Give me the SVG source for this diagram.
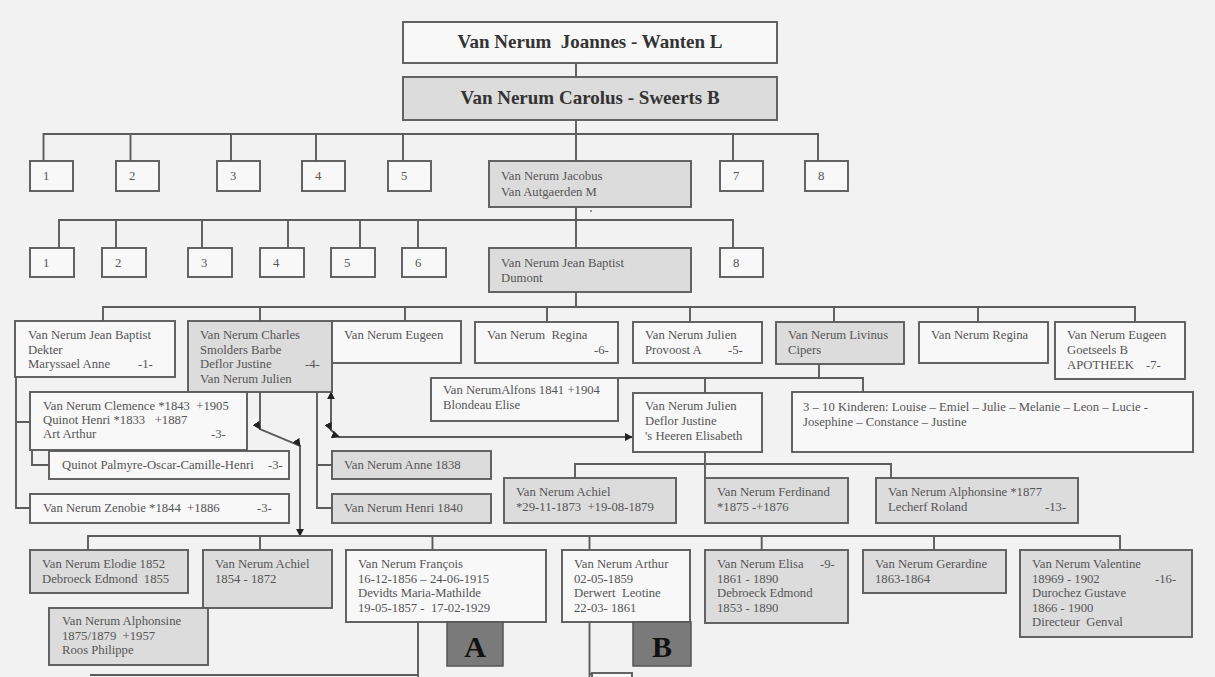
<svg xmlns="http://www.w3.org/2000/svg" width="1215" height="677" viewBox="0 0 1215 677">
<defs>
<style>
.b{fill:#f8f8f8;stroke:#5c5c5c;stroke-width:1.9}
.g{fill:#dcdcdc;stroke:#5c5c5c;stroke-width:1.9}
.d{fill:#7a7a7a;stroke:#555;stroke-width:1.5}
.t{font-family:"Liberation Serif",serif;font-size:12.7px;fill:#555;white-space:pre}
.h{font-family:"Liberation Serif",serif;font-size:19px;font-weight:bold;fill:#333;text-anchor:middle;white-space:pre}
.L{font-family:"Liberation Serif",serif;font-size:30px;font-weight:bold;fill:#111;text-anchor:middle}
.c{fill:none;stroke:#5c5c5c;stroke-width:1.9}
</style>
<marker id="ar" viewBox="0 0 10 10" refX="9" refY="5" markerWidth="8" markerHeight="8" orient="auto-start-reverse" markerUnits="userSpaceOnUse">
<path d="M0,0 L10,5 L0,10 z" fill="#222"/>
</marker>
</defs>
<rect x="0" y="0" width="1215" height="677" fill="#f2f2f2"/>

<g id="connectors">
<path class="c" d="M576,63 V77 M576,120 V161"/>
<path class="c" d="M43.5,161 V134 H818 V161 M130.5,134 V161 M231,134 V161 M316,134 V161 M403,134 V161 M733,134 V161"/>
<path class="c" d="M576,207 V248 M59,248 V220 H733 V248 M116,220 V248 M202,220 V248 M288,220 V248 M360,220 V248 M418,220 V248"/>
<path class="c" d="M576,292 V307 M103,321 V307 H1135 V321 M260,307 V321 M405,307 V321 M547,307 V321 M690,307 V321 M834,307 V322 M978,307 V322"/>
<path class="c" d="M16,377 V508 H30 M16,422 H30 M32,450 V465 H49"/>
<path class="c" d="M317,392 V508 H332 M317,465 H332"/>
<path class="c" d="M260,392 V429 L300,446 V536" marker-mid="url(#ar)" marker-end="url(#ar)"/>
<path class="c" d="M331,392 V430 L339,437 H632" marker-start="url(#ar)" marker-mid="url(#ar)" marker-end="url(#ar)"/>
<path class="c" d="M819,364 V378 M618,378 H863 V392 M705,378 V393"/>
<path class="c" d="M705,452 V478 M575,478 V464 H891 V478"/>
<path class="c" d="M88,550 V536 H1120 V550 M260,536 V550 M432.5,536 V550 M589.5,536 V550 M761.7,536 V550 M934,536 V550"/>
<path class="c" d="M418,622 V677 M90,675 H418 M589.5,622 V677 M589.5,674 H632"/>
<circle cx="591" cy="211" r="1" fill="#777"/>
</g>

<g id="n-joannes"><rect class="b" x="403" y="22" width="374" height="41"/><text class="h" x="590" y="48">Van Nerum  Joannes - Wanten L</text></g>
<g id="n-carolus"><rect class="g" x="403" y="77" width="374" height="43"/><text class="h" x="590" y="104">Van Nerum Carolus - Sweerts B</text></g>

<g id="r1-1"><rect class="b" x="30" y="161" width="43" height="30"/><text class="t" x="43" y="180">1</text></g>
<g id="r1-2"><rect class="b" x="116" y="161" width="43" height="30"/><text class="t" x="129" y="180">2</text></g>
<g id="r1-3"><rect class="b" x="217" y="161" width="43" height="30"/><text class="t" x="230" y="180">3</text></g>
<g id="r1-4"><rect class="b" x="302" y="161" width="43" height="30"/><text class="t" x="315" y="180">4</text></g>
<g id="r1-5"><rect class="b" x="388" y="161" width="43" height="30"/><text class="t" x="401" y="180">5</text></g>
<g id="r1-jacobus"><rect class="g" x="489" y="161" width="202" height="46"/><text class="t" x="501" y="180">Van Nerum Jacobus</text><text class="t" x="501" y="196">Van Autgaerden M</text></g>
<g id="r1-7"><rect class="b" x="720" y="161" width="43" height="30"/><text class="t" x="733" y="180">7</text></g>
<g id="r1-8"><rect class="b" x="805" y="161" width="43" height="30"/><text class="t" x="818" y="180">8</text></g>

<g id="r2-1"><rect class="b" x="30" y="248" width="44" height="29"/><text class="t" x="43" y="267">1</text></g>
<g id="r2-2"><rect class="b" x="102" y="248" width="44" height="29"/><text class="t" x="115" y="267">2</text></g>
<g id="r2-3"><rect class="b" x="188" y="248" width="44" height="29"/><text class="t" x="201" y="267">3</text></g>
<g id="r2-4"><rect class="b" x="260" y="248" width="44" height="29"/><text class="t" x="273" y="267">4</text></g>
<g id="r2-5"><rect class="b" x="331" y="248" width="44" height="29"/><text class="t" x="344" y="267">5</text></g>
<g id="r2-6"><rect class="b" x="402" y="248" width="44" height="29"/><text class="t" x="415" y="267">6</text></g>
<g id="r2-jb"><rect class="g" x="489" y="248" width="202" height="44"/><text class="t" x="501" y="267">Van Nerum Jean Baptist</text><text class="t" x="501" y="282">Dumont</text></g>
<g id="r2-8"><rect class="b" x="720" y="248" width="43" height="29"/><text class="t" x="733" y="267">8</text></g>

<g id="r3-jb"><rect class="b" x="15" y="321" width="160" height="56"/><text class="t" x="28" y="339">Van Nerum Jean Baptist</text><text class="t" x="28" y="354">Dekter</text><text class="t" x="28" y="368">Maryssael Anne</text><text class="t" x="138" y="368">-1-</text></g>
<g id="r3-charles"><rect class="g" x="188" y="321" width="144" height="71"/><text class="t" x="200" y="339">Van Nerum Charles</text><text class="t" x="200" y="354">Smolders Barbe</text><text class="t" x="200" y="368">Deflor Justine</text><text class="t" x="305" y="368">-4-</text><text class="t" x="200" y="383">Van Nerum Julien</text></g>
<g id="r3-eugeen"><rect class="b" x="332" y="321" width="129" height="42"/><text class="t" x="344" y="339">Van Nerum Eugeen</text></g>
<g id="r3-regina"><rect class="b" x="475" y="322" width="143" height="41"/><text class="t" x="487" y="339">Van Nerum  Regina</text><text class="t" x="594" y="354">-6-</text></g>
<g id="r3-julien"><rect class="b" x="633" y="322" width="129" height="41"/><text class="t" x="645" y="339">Van Nerum Julien</text><text class="t" x="645" y="354">Provoost A</text><text class="t" x="728" y="354">-5-</text></g>
<g id="r3-livinus"><rect class="g" x="776" y="322" width="128" height="42"/><text class="t" x="788" y="339">Van Nerum Livinus</text><text class="t" x="788" y="354">Cipers</text></g>
<g id="r3-regina2"><rect class="b" x="919" y="322" width="129" height="41"/><text class="t" x="931" y="339">Van Nerum Regina</text></g>
<g id="r3-eugeen2"><rect class="b" x="1055" y="322" width="130" height="57"/><text class="t" x="1067" y="339">Van Nerum Eugeen</text><text class="t" x="1067" y="354">Goetseels B</text><text class="t" x="1067" y="369">APOTHEEK</text><text class="t" x="1146" y="369">-7-</text></g>

<g id="n-clemence"><rect class="b" x="30" y="392" width="217" height="58"/><text class="t" x="43" y="410">Van Nerum Clemence *1843  +1905</text><text class="t" x="43" y="424">Quinot Henri *1833   +1887</text><text class="t" x="43" y="438">Art Arthur</text><text class="t" x="211" y="438">-3-</text></g>
<g id="n-quinot"><rect class="b" x="49" y="451" width="240" height="28"/><text class="t" x="62" y="469">Quinot Palmyre-Oscar-Camille-Henri</text><text class="t" x="268" y="469">-3-</text></g>
<g id="n-zenobie"><rect class="b" x="30" y="494" width="259" height="29"/><text class="t" x="43" y="512">Van Nerum Zenobie *1844  +1886</text><text class="t" x="257" y="512">-3-</text></g>
<g id="n-anne"><rect class="g" x="332" y="451" width="159" height="28"/><text class="t" x="344" y="469">Van Nerum Anne 1838</text></g>
<g id="n-henri"><rect class="g" x="332" y="494" width="159" height="29"/><text class="t" x="344" y="512">Van Nerum Henri 1840</text></g>
<g id="n-alfons"><rect class="b" x="431" y="378" width="187" height="43"/><text class="t" x="443" y="394">Van NerumAlfons 1841 +1904</text><text class="t" x="443" y="409">Blondeau Elise</text></g>
<g id="n-juliendeflor"><rect class="b" x="633" y="393" width="129" height="59"/><text class="t" x="645" y="410">Van Nerum Julien</text><text class="t" x="645" y="425">Deflor Justine</text><text class="t" x="645" y="440">'s Heeren Elisabeth</text></g>
<g id="n-kinderen"><rect class="b" x="792" y="392" width="401" height="60"/><text class="t" x="803" y="411">3 – 10 Kinderen: Louise – Emiel – Julie – Melanie – Leon – Lucie -</text><text class="t" x="803" y="426">Josephine – Constance – Justine</text></g>

<g id="n-achiel1873"><rect class="g" x="504" y="478" width="172" height="45"/><text class="t" x="516" y="496">Van Nerum Achiel</text><text class="t" x="516" y="511">*29-11-1873  +19-08-1879</text></g>
<g id="n-ferdinand"><rect class="g" x="705" y="478" width="143" height="45"/><text class="t" x="717" y="496">Van Nerum Ferdinand</text><text class="t" x="717" y="511">*1875 -+1876</text></g>
<g id="n-alphonsine1877"><rect class="g" x="876" y="478" width="202" height="45"/><text class="t" x="888" y="496">Van Nerum Alphonsine *1877</text><text class="t" x="888" y="511">Lecherf Roland</text><text class="t" x="1045" y="511">-13-</text></g>

<g id="n-elodie"><rect class="g" x="30" y="550" width="158" height="43"/><text class="t" x="42" y="568">Van Nerum Elodie 1852</text><text class="t" x="42" y="583">Debroeck Edmond  1855</text></g>
<g id="n-achiel1854"><rect class="g" x="203" y="550" width="129" height="58"/><text class="t" x="215" y="568">Van Nerum Achiel</text><text class="t" x="215" y="583">1854 - 1872</text></g>
<g id="n-alphonsine1875"><rect class="g" x="49" y="608" width="159" height="57"/><text class="t" x="62" y="625">Van Nerum Alphonsine</text><text class="t" x="62" y="640">1875/1879  +1957</text><text class="t" x="62" y="654">Roos Philippe</text></g>
<g id="n-francois"><rect class="b" x="346" y="550" width="200" height="72"/><text class="t" x="358" y="568">Van Nerum François</text><text class="t" x="358" y="583">16-12-1856 – 24-06-1915</text><text class="t" x="358" y="597">Devidts Maria-Mathilde</text><text class="t" x="358" y="612">19-05-1857 -  17-02-1929</text></g>
<g id="n-A"><rect class="d" x="447" y="622" width="56" height="44"/><text class="L" x="475" y="657">A</text></g>
<g id="n-arthur"><rect class="b" x="562" y="550" width="128" height="72"/><text class="t" x="574" y="568">Van Nerum Arthur</text><text class="t" x="574" y="583">02-05-1859</text><text class="t" x="574" y="597">Derwert  Leotine</text><text class="t" x="574" y="612">22-03- 1861</text></g>
<g id="n-B"><rect class="d" x="633" y="622" width="58" height="44"/><text class="L" x="662" y="657">B</text></g>
<g id="n-elisa"><rect class="g" x="705" y="550" width="143" height="73"/><text class="t" x="717" y="568">Van Nerum Elisa</text><text class="t" x="820" y="568">-9-</text><text class="t" x="717" y="583">1861 - 1890</text><text class="t" x="717" y="597">Debroeck Edmond</text><text class="t" x="717" y="612">1853 - 1890</text></g>
<g id="n-gerardine"><rect class="g" x="863" y="550" width="143" height="43"/><text class="t" x="875" y="568">Van Nerum Gerardine</text><text class="t" x="875" y="583">1863-1864</text></g>
<g id="n-valentine"><rect class="g" x="1020" y="550" width="172" height="87"/><text class="t" x="1032" y="568">Van Nerum Valentine</text><text class="t" x="1032" y="583">18969 - 1902</text><text class="t" x="1155" y="583">-16-</text><text class="t" x="1032" y="597">Durochez Gustave</text><text class="t" x="1032" y="612">1866 - 1900</text><text class="t" x="1032" y="626">Directeur  Genval</text></g>
<g id="n-partial"><rect class="b" x="592" y="673" width="40" height="20"/></g>
</svg>
